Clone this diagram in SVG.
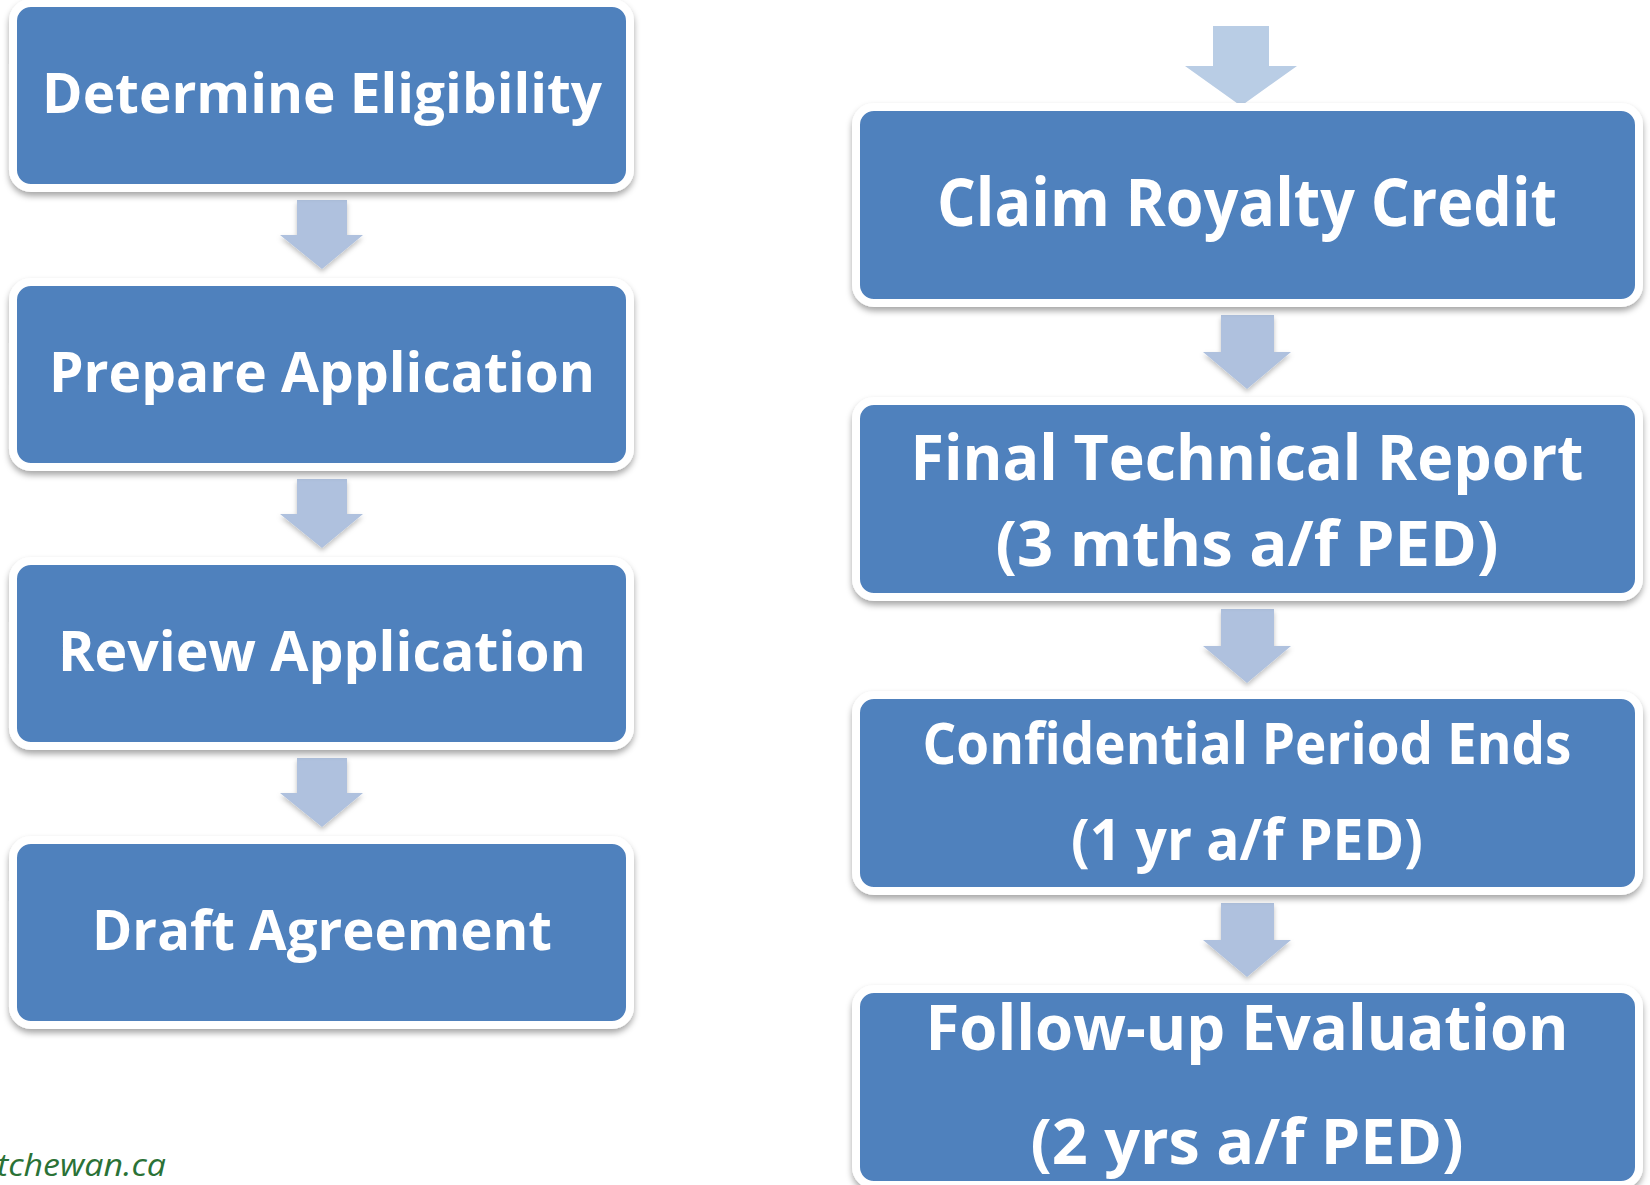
<svg xmlns="http://www.w3.org/2000/svg" width="1650" height="1185" viewBox="0 0 1650 1185">
<style>
.box{fill:#4F81BD;stroke:#FFFFFF;stroke-width:8;filter:url(#sh)}
.arr{fill:#AFC1DE;filter:url(#ash)}
.arrTop{fill:#B9CDE5}
.t{font-family:"Open Sans","Liberation Sans",sans-serif;font-weight:bold;fill:#FFFFFF;text-anchor:middle}
.wm{font-family:"Open Sans","Liberation Sans",sans-serif;font-style:italic;fill:#2B7236}
</style>
<defs>
<filter id="sh" x="-5%" y="-10%" width="110%" height="125%">
<feDropShadow dx="0" dy="4" stdDeviation="3" flood-color="#000" flood-opacity="0.35"/>
</filter>
<filter id="ash" x="-30%" y="-20%" width="160%" height="150%">
<feDropShadow dx="0" dy="3" stdDeviation="2.5" flood-color="#000" flood-opacity="0.25"/>
</filter>
</defs>
<rect width="1650" height="1185" fill="#FFFFFF"/>
<g id="connectors">
<polygon class="arr" points="297,200 347,200 347,235 363,235 322,269 280,235 297,235"/>
<polygon class="arr" points="297,479 347,479 347,514 363,514 322,548 280,514 297,514"/>
<polygon class="arr" points="297,758 347,758 347,793 363,793 322,827 280,793 297,793"/>
<polygon class="arrTop" points="1213,26 1269,26 1269,66 1297,66 1241,106 1185,66 1213,66"/>
<polygon class="arr" points="1221,315 1274,315 1274,352 1291,352 1247,389 1203,352 1221,352"/>
<polygon class="arr" points="1221,609 1274,609 1274,646 1291,646 1247,683 1203,646 1221,646"/>
<polygon class="arr" points="1221,903 1274,903 1274,940 1291,940 1247,977 1203,940 1221,940"/>
</g>
<g id="n1"><rect class="box" x="13" y="3" width="617" height="185" rx="18"/>
<text class="t" x="322" y="113" font-size="56" textLength="560" lengthAdjust="spacingAndGlyphs">Determine Eligibility</text></g>
<g id="n2"><rect class="box" x="13" y="282" width="617" height="185" rx="18"/>
<text class="t" x="322" y="392" font-size="56" textLength="546" lengthAdjust="spacingAndGlyphs">Prepare Application</text></g>
<g id="n3"><rect class="box" x="13" y="561" width="617" height="185" rx="18"/>
<text class="t" x="322" y="671" font-size="56" textLength="528" lengthAdjust="spacingAndGlyphs">Review Application</text></g>
<g id="n4"><rect class="box" x="13" y="840" width="617" height="185" rx="18"/>
<text class="t" x="322" y="950" font-size="56" textLength="460" lengthAdjust="spacingAndGlyphs">Draft Agreement</text></g>
<g id="r1"><rect class="box" x="856" y="107" width="783" height="196" rx="18"/>
<text class="t" x="1247" y="226" font-size="67" textLength="620" lengthAdjust="spacingAndGlyphs">Claim Royalty Credit</text></g>
<g id="r2"><rect class="box" x="856" y="401" width="783" height="196" rx="18"/>
<text class="t" x="1247" y="480" font-size="63" textLength="673" lengthAdjust="spacingAndGlyphs">Final Technical Report</text>
<text class="t" x="1247" y="566" font-size="63" textLength="503" lengthAdjust="spacingAndGlyphs">(3 mths a/f PED)</text></g>
<g id="r3"><rect class="box" x="856" y="695" width="783" height="196" rx="18"/>
<text class="t" x="1247" y="764" font-size="57" textLength="649" lengthAdjust="spacingAndGlyphs">Confidential Period Ends</text>
<text class="t" x="1247" y="860" font-size="57" textLength="352" lengthAdjust="spacingAndGlyphs">(1 yr a/f PED)</text></g>
<g id="r4"><rect class="box" x="856" y="989" width="783" height="196" rx="18"/>
<text class="t" x="1247" y="1050" font-size="63" textLength="643" lengthAdjust="spacingAndGlyphs">Follow-up Evaluation</text>
<text class="t" x="1247" y="1164" font-size="63" textLength="433" lengthAdjust="spacingAndGlyphs">(2 yrs a/f PED)</text></g>
<text class="wm" x="-3" y="1176" font-size="31" textLength="169" lengthAdjust="spacingAndGlyphs">tchewan.ca</text>
</svg>
